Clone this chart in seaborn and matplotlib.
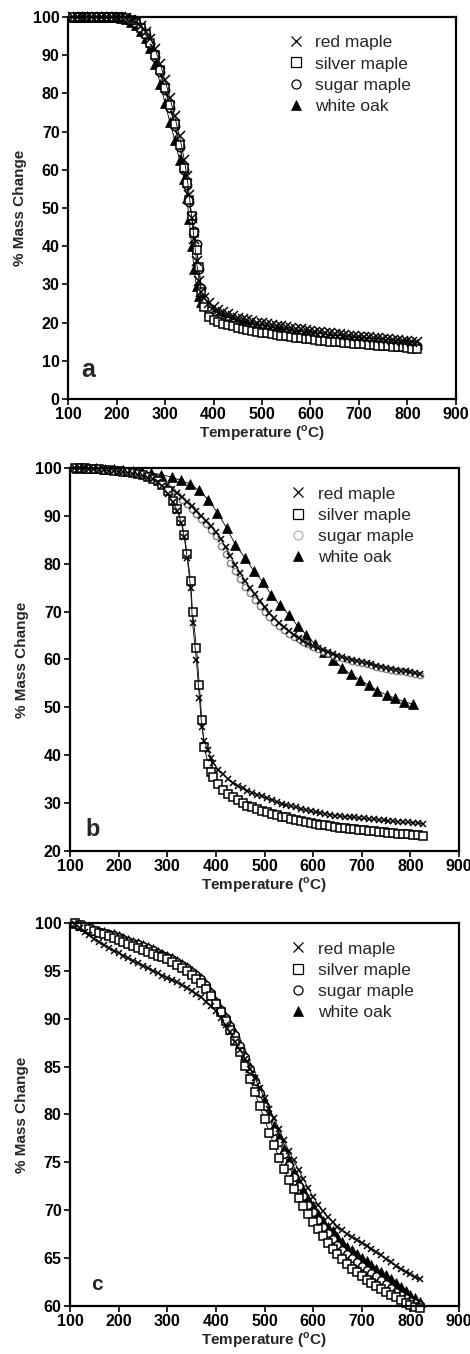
import matplotlib
matplotlib.use("Agg")
import matplotlib.pyplot as plt
from matplotlib.lines import Line2D
import seaborn as sns

# ---------------- panel a ----------------
a_temp = [110, 120, 130, 140, 150, 160, 170, 180, 190, 200,
          210, 220, 230, 240, 250, 260, 270, 280, 290, 300,
          310, 320, 330, 340, 345, 350, 355, 360, 365, 370,
          375, 380, 390, 400, 410, 420, 430, 440, 450, 460,
          470, 480, 490, 500, 510, 520, 530, 540, 550, 560,
          570, 580, 590, 600, 610, 620, 630, 640, 650, 660,
          670, 680, 690, 700, 710, 720, 730, 740, 750, 760,
          770, 780, 790, 800, 810, 820]
a_red_maple = [100, 100, 100, 100, 100, 100, 100, 100, 100, 100,
               100, 99.8, 99.3, 98.6, 97.6, 96.2, 94.3, 91.5, 87.8, 83.5,
               78.8, 74, 68.8, 62.5, 58.5, 53.5, 47.5, 42, 36, 31,
               28, 26.5, 25, 24, 23.3, 22.7, 22.2, 21.7, 21.3, 20.9,
               20.6, 20.3, 20, 19.8, 19.6, 19.4, 19.2, 19, 18.8, 18.6,
               18.4, 18.2, 18, 17.8, 17.6, 17.5, 17.3, 17.2, 17, 16.9,
               16.7, 16.6, 16.5, 16.3, 16.2, 16.1, 16, 15.9, 15.7, 15.6,
               15.5, 15.4, 15.2, 15.1, 15, 14.8]
a_silver_maple = [100, 100, 100, 100, 100, 100, 100, 100, 100, 100,
                  100, 99.8, 99.2, 98.4, 97.2, 95.5, 93.2, 90, 86, 81.5,
                  77, 72, 66.5, 60.5, 56.5, 52, 48, 43.5, 39, 34.5,
                  28, 24, 21.5, 20.8, 20.2, 19.7, 19.3, 19, 18.7, 18.4,
                  18.1, 17.8, 17.6, 17.4, 17.2, 17, 16.8, 16.6, 16.4, 16.2,
                  16, 15.9, 15.7, 15.6, 15.4, 15.3, 15.2, 15, 14.9, 14.8,
                  14.7, 14.6, 14.5, 14.4, 14.3, 14.2, 14.1, 14, 13.9, 13.8,
                  13.7, 13.6, 13.5, 13.4, 13.2, 13]
a_sugar_maple = [100, 100, 100, 100, 100, 100, 100, 100, 100, 100,
                 100, 99.8, 99.2, 98.3, 97, 95.2, 92.8, 89.5, 85.5, 81,
                 76.3, 71.5, 66, 60, 56, 51.5, 47, 44, 40.5, 34,
                 29, 26, 23, 22, 21.3, 20.8, 20.3, 19.9, 19.5, 19.2,
                 18.9, 18.6, 18.4, 18.2, 18, 17.8, 17.6, 17.4, 17.2, 17,
                 16.8, 16.7, 16.5, 16.4, 16.2, 16.1, 16, 15.8, 15.7, 15.6,
                 15.5, 15.4, 15.3, 15.2, 15.1, 15, 14.9, 14.8, 14.7, 14.6,
                 14.5, 14.4, 14.3, 14.2, 14.1, 14]
a_white_oak = [100, 100, 100, 100, 100, 100, 100, 100, 100, 100,
               99.8, 99.5, 98.8, 97.8, 96.3, 94.5, 91.8, 87.8, 82.5, 77.5,
               72.5, 67.8, 62.5, 57.5, 52.5, 47, 40, 34, 29.5, 27,
               25.5, 24.5, 23.3, 22.5, 21.9, 21.4, 21, 20.6, 20.3, 20,
               19.7, 19.4, 19.2, 19, 18.8, 18.6, 18.4, 18.2, 18, 17.8,
               17.6, 17.4, 17.2, 17, 16.9, 16.7, 16.6, 16.4, 16.3, 16.1,
               16, 15.9, 15.8, 15.6, 15.5, 15.4, 15.3, 15.2, 15.1, 15,
               14.9, 14.8, 14.7, 14.6, 14.5, 14.4]

# ---------------- panel b ----------------
b_temp_fast = [110, 120, 130, 140, 150, 160, 170, 180, 190, 200,
               210, 220, 230, 240, 250, 260, 270, 280, 290, 302,
               312, 321, 329, 335, 341, 348, 352, 360, 366, 371,
               376, 384, 390, 395, 405, 415, 425, 435, 445, 455,
               465, 475, 485, 495, 505, 515, 525, 535, 545, 555,
               565, 575, 585, 595, 605, 615, 625, 635, 645, 655,
               665, 675, 685, 695, 705, 715, 725, 735, 745, 755,
               765, 775, 785, 795, 805, 815, 825]
b_red_maple = [100, 99.9, 99.9, 99.8, 99.7, 99.6, 99.5, 99.4, 99.3, 99.2,
               99.1, 99, 98.8, 98.6, 98.3, 98, 97.6, 97, 96.2, 94.6,
               92.8, 91, 88.5, 85.5, 81.2, 75, 67.7, 59.8, 52, 46,
               43, 41, 39.5, 38.4, 37, 36, 35, 34.2, 33.6, 33.1,
               32.6, 32.2, 31.8, 31.4, 31, 30.6, 30.3, 29.9, 29.6, 29.3,
               29.1, 28.8, 28.6, 28.3, 28.1, 27.9, 27.8, 27.6, 27.4, 27.3,
               27.2, 27.1, 27, 26.9, 26.8, 26.7, 26.6, 26.5, 26.4, 26.3,
               26.2, 26.1, 26, 26, 25.9, 25.8, 25.7]
b_silver_maple = [100, 99.9, 99.9, 99.8, 99.8, 99.7, 99.6, 99.5, 99.4, 99.3,
                  99.2, 99.1, 98.9, 98.7, 98.5, 98.2, 97.8, 97.3, 96.5, 95.1,
                  93.2, 91.5, 89, 86, 82, 76.5, 70, 62.5, 54.6, 47.4,
                  41.7, 38.2, 36.4, 35.4, 34, 32.8, 32, 31.2, 30.6, 30,
                  29.5, 29.1, 28.7, 28.4, 28.1, 27.8, 27.5, 27.2, 27, 26.7,
                  26.5, 26.3, 26.1, 25.9, 25.7, 25.5, 25.4, 25.2, 25.1, 24.9,
                  24.8, 24.7, 24.5, 24.4, 24.3, 24.2, 24.1, 24, 23.9, 23.8,
                  23.7, 23.6, 23.5, 23.5, 23.4, 23.3, 23.2]
b_temp_slow = [110, 120, 130, 140, 150, 160, 170, 180, 190, 200,
               210, 220, 230, 240, 250, 260, 270, 280, 290, 300,
               310, 320, 330, 340, 350, 360, 370, 380, 390, 400,
               410, 420, 430, 440, 450, 460, 470, 480, 490, 500,
               510, 520, 530, 540, 550, 560, 570, 580, 590, 600,
               610, 620, 630, 640, 650, 660, 670, 680, 690, 700,
               710, 720, 730, 740, 750, 760, 770, 780, 790, 800,
               810, 820]
b_sugar_maple = [100, 99.9, 99.9, 99.8, 99.8, 99.7, 99.6, 99.5, 99.4, 99.3,
                 99.2, 99.1, 98.9, 98.7, 98.4, 98.1, 97.7, 97.2, 96.7, 96,
                 95.2, 94.3, 93.4, 92.4, 91.4, 90.4, 89.3, 88.2, 87, 85.8,
                 83.8, 82, 80.2, 78.5, 76.8, 75.2, 73.8, 72.4, 71.1, 69.9,
                 68.8, 67.8, 66.9, 66.1, 65.4, 64.8, 64.2, 63.7, 63.2, 62.7,
                 62.2, 61.8, 61.4, 61, 60.6, 60.3, 60, 59.7, 59.4, 59.2,
                 59, 58.8, 58.5, 58.3, 58.1, 57.9, 57.7, 57.5, 57.3, 57.1,
                 56.9, 56.7]
b_slow_cross = [100, 99.9, 99.9, 99.8, 99.8, 99.7, 99.6, 99.5, 99.4, 99.3,
                99.2, 99.1, 99, 98.8, 98.6, 98.3, 98, 97.6, 97.1, 96.5,
                95.6, 94.8, 93.9, 93, 92, 91, 90, 88.9, 87.8, 86.6,
                85.1, 83.4, 81.6, 79.8, 78.1, 76.5, 75, 73.6, 72.2, 70.9,
                69.7, 68.6, 67.6, 66.7, 65.9, 65.2, 64.5, 63.9, 63.3, 62.8,
                62.4, 62, 61.6, 61.2, 60.8, 60.5, 60.2, 59.9, 59.6, 59.4,
                59.2, 59, 58.7, 58.5, 58.3, 58.1, 57.9, 57.7, 57.5, 57.3,
                57.1, 56.9]
b_temp_oak = [115, 134, 153, 172, 191, 210, 229, 248, 267,
              288, 309, 328, 347, 365, 384, 403, 422, 440, 460,
              478, 497, 514, 531, 551, 568, 586, 603, 623, 641,
              660, 677, 697, 715, 732, 751, 769, 787, 805]
b_white_oak = [100, 99.9, 99.9, 99.8, 99.7, 99.6, 99.4, 99.2, 99,
               98.6, 98.1, 97.4, 96.7, 95.3, 93.4, 90.7, 87.5, 84, 81.2,
               78.5, 76.1, 73.5, 71.4, 69.3, 67, 65.2, 63.3, 61.5, 59.9,
               58.3, 56.9, 55.7, 54.6, 53.5, 52.6, 51.9, 51.2, 50.7]

# ---------------- panel c ----------------
c_temp = b_temp_slow
c_red_maple = [99.9, 99.5, 99.1, 98.7, 98.3, 98, 97.7, 97.4, 97.1, 96.9,
               96.6, 96.3, 96, 95.8, 95.5, 95.3, 95, 94.8, 94.5, 94.3,
               94, 93.8, 93.5, 93.2, 92.9, 92.6, 92.3, 91.8, 91.3, 90.8,
               90.1, 89.3, 88.6, 87.6, 86.7, 85.8, 84.8, 83.8, 82.8, 81.7,
               80.6, 79.6, 78.5, 77.3, 76.2, 75.2, 74.2, 73.3, 72.3, 71.4,
               70.6, 69.9, 69.3, 68.8, 68.3, 67.9, 67.5, 67.2, 66.9, 66.6,
               66.3, 66, 65.6, 65.3, 64.9, 64.6, 64.2, 63.9, 63.6, 63.3,
               63, 62.8]
c_silver_maple = [100, 99.8, 99.6, 99.4, 99.2, 99, 98.8, 98.6, 98.4, 98.2,
                  98, 97.8, 97.6, 97.4, 97.2, 97, 96.8, 96.6, 96.4, 96.2,
                  95.9, 95.6, 95.3, 95, 94.6, 94.2, 93.7, 93.1, 92.4, 91.5,
                  90.7, 89.8, 88.8, 87.7, 86.5, 85.1, 83.7, 82.3, 80.9, 79.5,
                  78.1, 76.8, 75.5, 74.3, 73.2, 72.2, 71.3, 70.4, 69.6, 68.8,
                  68, 67.3, 66.6, 66, 65.4, 64.9, 64.4, 63.9, 63.5, 63.1,
                  62.7, 62.4, 62.1, 61.8, 61.5, 61.2, 60.9, 60.6, 60.3, 60.1,
                  59.9, 59.8]
c_sugar_maple = [100, 99.8, 99.6, 99.5, 99.3, 99.1, 99, 98.8, 98.7, 98.5,
                 98.3, 98.1, 97.9, 97.8, 97.6, 97.4, 97.2, 96.9, 96.7, 96.5,
                 96.2, 95.9, 95.6, 95.3, 94.9, 94.6, 94.1, 93.5, 92.7, 91.7,
                 90.9, 90.1, 89.2, 88.3, 87.2, 86, 84.8, 83.5, 82.2, 80.9,
                 79.6, 78.3, 77.1, 75.9, 74.7, 73.5, 72.5, 71.5, 70.6, 69.8,
                 69, 68.3, 67.6, 67, 66.4, 65.9, 65.4, 65, 64.6, 64.2,
                 63.8, 63.4, 63.1, 62.7, 62.3, 61.9, 61.5, 61.2, 60.8, 60.5,
                 60.3, 60.1]
c_white_oak = [100, 99.8, 99.7, 99.5, 99.3, 99.2, 99.1, 98.9, 98.8, 98.6,
               98.4, 98.2, 98, 97.9, 97.7, 97.5, 97.3, 97, 96.8, 96.6,
               96.3, 96, 95.7, 95.4, 95, 94.7, 94.3, 93.6, 92.8, 91.8,
               91, 90.2, 89.4, 88.5, 87.4, 86.2, 85, 83.8, 82.6, 81.3,
               80, 78.8, 77.6, 76.4, 75.2, 74, 73, 72.1, 71.2, 70.4,
               69.6, 68.9, 68.3, 67.8, 67.2, 66.7, 66.2, 65.8, 65.4, 65,
               64.7, 64.3, 63.9, 63.6, 63.2, 62.8, 62.4, 62, 61.6, 61.2,
               60.8, 60.4]

species = ["red maple", "silver maple", "sugar maple", "white oak"]
x_ticks = [100, 200, 300, 400, 500, 600, 700, 800, 900]

sns.set_theme(style="ticks")
plt.rcParams["font.family"] = ["Liberation Sans", "DejaVu Sans"]
plt.rcParams["mathtext.fontset"] = "custom"
plt.rcParams["mathtext.rm"] = "Liberation Sans"
plt.rcParams["mathtext.bf"] = "Liberation Sans:bold"

marker_style = {
    "red maple": dict(marker="x", mec="black", mfc="none", mew=1.1),
    "silver maple": dict(marker="s", mec="black", mfc="white", mew=1.1),
    "sugar maple": dict(marker="o", mec="black", mfc="white", mew=1.1),
    "white oak": dict(marker="^", mec="black", mfc="black", mew=0.5),
}


def draw(ax, x, y, name, ms, line_color="black", mec=None, ls="-"):
    style = dict(marker_style[name])
    if mec is not None:
        style["mec"] = mec
    sns.lineplot(x=x, y=y, ax=ax, color=line_color, lw=0.6, ls=ls,
                 estimator=None, sort=False, ms=ms, clip_on=False, **style)


def finish(ax, ylim, yticks, letter, letter_xy, letter_size, faint_sugar=False):
    ax.set_xlim(100, 900)
    ax.set_ylim(*ylim)
    ax.set_xticks(x_ticks)
    ax.set_yticks(yticks)
    ax.set_xticklabels([str(t) for t in x_ticks], fontweight="bold", fontsize=11.5)
    ax.set_yticklabels([str(t) for t in yticks], fontweight="bold", fontsize=11.5)
    ax.tick_params(direction="out", length=4.5, width=1.2, pad=1.5, colors="black")
    for sp in ax.spines.values():
        sp.set_linewidth(1.6)
        sp.set_color("black")
        sp.set_visible(True)
    ax.set_ylabel("% Mass Change", fontweight="bold", fontsize=11, labelpad=4)
    ax.set_xlabel(r"Temperature ($^{\mathbf{o}}$C)", fontweight="bold",
                  fontsize=11, labelpad=1)
    ax.text(letter_xy[0], letter_xy[1], letter, transform=ax.transAxes,
            fontsize=letter_size, fontweight="bold", ha="left", va="center")
    handles = []
    for name in species:
        st = dict(marker_style[name])
        st["mew"] = 0.9 if name != "white oak" else 0.5
        if faint_sugar and name == "sugar maple":
            st["mec"] = "#b0b0b0"
        handles.append(Line2D([], [], ls="none", ms=6.5, **st))
    ax.legend(handles, species, loc="upper left", bbox_to_anchor=(0.565, 0.952),
              frameon=False, fontsize=12.5, handlelength=1.0, handletextpad=0.6,
              labelspacing=0.34, borderpad=0, borderaxespad=0)
    ax.grid(False)


fig = plt.figure(figsize=(4.7, 13.54), dpi=100)
ax_a = fig.add_axes([0.1447, 0.70532, 0.8255, 0.28213])
ax_b = fig.add_axes([0.14894, 0.37149, 0.82766, 0.28287])
ax_c = fig.add_axes([0.14894, 0.03545, 0.82766, 0.28287])

# panel a: all four species overlap closely
draw(ax_a, a_temp, a_white_oak, "white oak", 7)
draw(ax_a, a_temp, a_sugar_maple, "sugar maple", 6)
draw(ax_a, a_temp, a_silver_maple, "silver maple", 6)
draw(ax_a, a_temp, a_red_maple, "red maple", 6.5)
finish(ax_a, (0, 100), list(range(0, 101, 10)), "a", (0.035, 0.075), 18)

# panel b: two fast-decomposing and two slow-decomposing curves
draw(ax_b, b_temp_oak, b_white_oak, "white oak", 6.5)
draw(ax_b, b_temp_slow, b_sugar_maple, "sugar maple", 4.5,
     line_color="#777777", mec="#8a8a8a", ls=":")
draw(ax_b, b_temp_slow, b_slow_cross, "red maple", 4)
draw(ax_b, b_temp_fast, b_silver_maple, "silver maple", 5.5)
draw(ax_b, b_temp_fast, b_red_maple, "red maple", 4.5)
finish(ax_b, (20, 100), list(range(20, 101, 10)), "b", (0.04, 0.055), 17,
       faint_sugar=True)

# panel c
draw(ax_c, c_temp, c_white_oak, "white oak", 6.5)
draw(ax_c, c_temp, c_sugar_maple, "sugar maple", 5.5)
draw(ax_c, c_temp, c_silver_maple, "silver maple", 5.5)
draw(ax_c, c_temp, c_red_maple, "red maple", 5)
finish(ax_c, (60, 100), list(range(60, 101, 5)), "c", (0.055, 0.057), 15)

fig.savefig("out.png", dpi=100)
